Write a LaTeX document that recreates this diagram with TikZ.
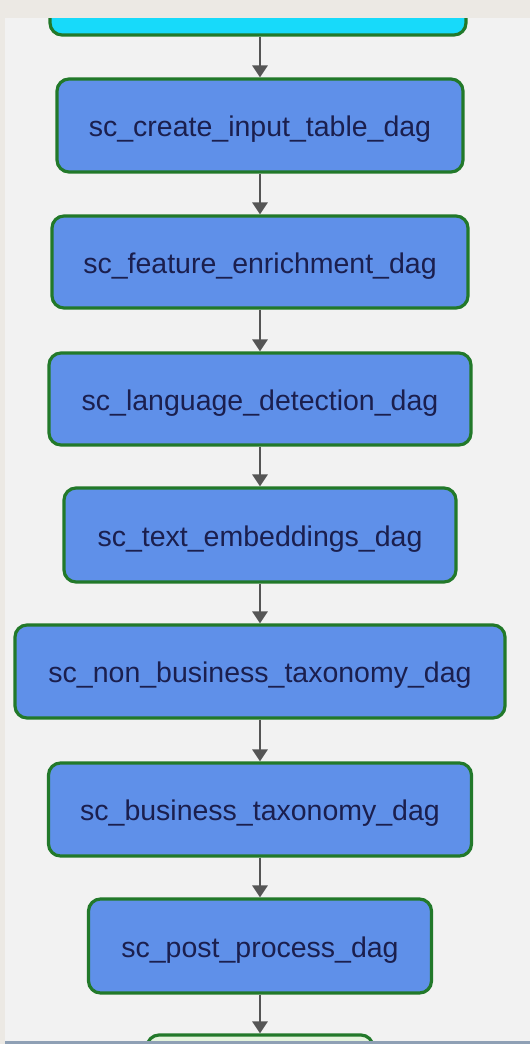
\documentclass[tikz,border=0pt]{standalone}
\usepackage{fontspec}
\setmainfont{Liberation Sans}
\usetikzlibrary{arrows.meta}
\definecolor{outerbg}{HTML}{ECE9E4}
\definecolor{panelbg}{HTML}{F2F2F2}
\definecolor{boxfill}{HTML}{5F90E9}
\definecolor{topfill}{HTML}{17DAFA}
\definecolor{lastfill}{HTML}{E4F3DD}
\definecolor{boxedge}{HTML}{22792A}
\definecolor{txt}{HTML}{1B1F4E}
\definecolor{arrowcol}{HTML}{555555}
\definecolor{bottomline}{HTML}{8FA0B5}
\newcommand{\lowtext}[1]{\raisebox{-4pt}[\height][\depth]{#1}}
\tikzset{
  dagbox/.style={draw=boxedge, line width=3.2pt, fill=boxfill, rounded corners=12pt,
    inner sep=0pt, text=txt, font=\fontsize{28.5}{30}\selectfont},
  flow/.style={draw=arrowcol, line width=2.8pt, -{Triangle[length=12pt,width=15pt]}}
}
\begin{document}
\begin{tikzpicture}[x=1pt,y=-1pt]
\useasboundingbox (0,0) rectangle (530,1044);
\fill[outerbg] (0,0) rectangle (530,1044);
\fill[panelbg] (5,18) rectangle (530,1041);
\begin{scope}
\clip (5,18) rectangle (530,1041);
\node[dagbox, fill=topfill, minimum width=416pt, minimum height=90pt] (t) at (258,-10) {};
\node[dagbox, minimum width=406pt, minimum height=93pt] (b1) at (260,125.5) {\lowtext{sc\_create\_input\_table\_dag}};
\node[dagbox, minimum width=416pt, minimum height=92pt] (b2) at (260,262) {\lowtext{sc\_feature\_enrichment\_dag}};
\node[dagbox, minimum width=422pt, minimum height=92pt] (b3) at (260,399) {\lowtext{sc\_language\_detection\_dag}};
\node[dagbox, minimum width=392pt, minimum height=94pt] (b4) at (260,535) {\lowtext{sc\_text\_embeddings\_dag}};
\node[dagbox, minimum width=490pt, minimum height=93pt] (b5) at (260,671.5) {\lowtext{sc\_non\_business\_taxonomy\_dag}};
\node[dagbox, minimum width=423pt, minimum height=93pt] (b6) at (260,809.5) {\lowtext{sc\_business\_taxonomy\_dag}};
\node[dagbox, minimum width=343pt, minimum height=94pt] (b7) at (260,946) {\lowtext{sc\_post\_process\_dag}};
\node[dagbox, fill=lastfill, minimum width=226pt, minimum height=90pt] (b8) at (260,1080) {};
\draw[flow] (t.south -| b1.north) -- (b1.north);
\draw[flow] (b1.south) -- (b2.north);
\draw[flow] (b2.south) -- (b3.north);
\draw[flow] (b3.south) -- (b4.north);
\draw[flow] (b4.south) -- (b5.north);
\draw[flow] (b5.south) -- (b6.north);
\draw[flow] (b6.south) -- (b7.north);
\draw[flow] (b7.south) -- (b8.north);
\end{scope}
\fill[bottomline] (5,1041) rectangle (530,1044);
\end{tikzpicture}
\end{document}
